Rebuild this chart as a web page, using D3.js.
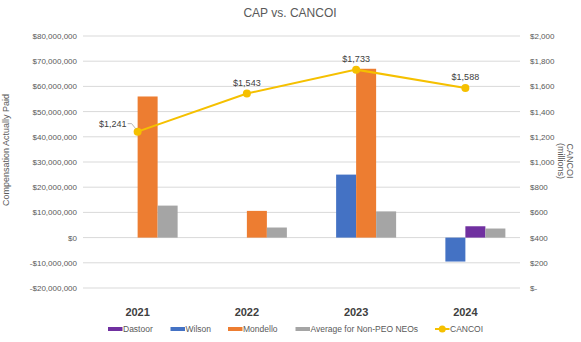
<!DOCTYPE html>
<html>
<head>
<meta charset="utf-8">
<script src="https://cdn.jsdelivr.net/npm/d3@7"></script>
<style>
  body { margin: 0; background: #fff; }
  text { font-family: "Liberation Sans", Arial, sans-serif; }
</style>
</head>
<body>
<div class="chart"></div>
<script>
// Chart data
var years = ["2021", "2022", "2023", "2024"];
var dastoor = [null, null, null, 4500000];
var wilson = [null, null, 25000000, -9500000];
var mondello = [56000000, 10600000, 67000000, null];
var avgNonPeo = [12700000, 4000000, 10400000, 3600000];
var cancoi = [1241, 1543, 1733, 1588];
var leftTicks = [-20000000, -10000000, 0, 10000000, 20000000, 30000000, 40000000, 50000000, 60000000, 70000000, 80000000];
var rightTicks = [0, 200, 400, 600, 800, 1000, 1200, 1400, 1600, 1800, 2000];

var svgWidth = 581;
var svgHeight = 342;

var margin = { top: 36, right: 61, bottom: 54, left: 83 };
var chartWidth = svgWidth - margin.left - margin.right;
var chartHeight = svgHeight - margin.top - margin.bottom;

// series; Dastoor sits in the same slot as Mondello (current PEO column)
var series = [
    { name: "Dastoor", values: dastoor, color: "#7030A0", slot: 2 },
    { name: "Wilson", values: wilson, color: "#4472C4", slot: 1 },
    { name: "Mondello", values: mondello, color: "#ED7D31", slot: 2 },
    { name: "Average for Non-PEO NEOs", values: avgNonPeo, color: "#A5A5A5", slot: 3 }
];

var svg = d3.select(".chart")
    .append("svg")
    .attr("width", svgWidth)
    .attr("height", svgHeight);

var chartGroup = svg.append("g")
    .attr("transform", `translate(${margin.left}, ${margin.top})`);

var xScale = d3.scaleBand()
    .domain(years)
    .range([0, chartWidth]);

var slotScale = d3.scaleBand()
    .domain([0, 1, 2, 3])
    .range([xScale.bandwidth() / 2 - 40, xScale.bandwidth() / 2 + 40]);

var yLeft = d3.scaleLinear()
    .domain([-20000000, 80000000])
    .range([chartHeight, 0]);

var yRight = d3.scaleLinear()
    .domain([0, 2000])
    .range([chartHeight, 0]);

// gridlines
chartGroup.append("g")
    .selectAll("line")
    .data(leftTicks)
    .enter().append("line")
    .attr("x1", 0)
    .attr("x2", chartWidth)
    .attr("y1", d => yLeft(d))
    .attr("y2", d => yLeft(d))
    .attr("stroke", "#d9d9d9")
    .attr("stroke-width", 1);

// left axis
var leftAxis = d3.axisLeft(yLeft)
    .tickValues(leftTicks)
    .tickSize(0)
    .tickPadding(6)
    .tickFormat(d => (d < 0 ? "-$" : "$") + d3.format(",")(Math.abs(d)));

chartGroup.append("g")
    .call(leftAxis)
    .call(g => g.select(".domain").remove())
    .selectAll("text")
    .attr("fill", "#595959")
    .style("font-size", "8px");

// right axis
var rightAxis = d3.axisRight(yRight)
    .tickValues(rightTicks)
    .tickSize(0)
    .tickPadding(10)
    .tickFormat(d => d === 0 ? "$-" : "$" + d3.format(",")(d));

chartGroup.append("g")
    .attr("transform", `translate(${chartWidth}, 0)`)
    .call(rightAxis)
    .call(g => g.select(".domain").remove())
    .selectAll("text")
    .attr("fill", "#595959")
    .style("font-size", "8px");

// bars
series.forEach(function(s) {
    var pts = years.map((y, i) => ({ year: y, value: s.values[i] })).filter(p => p.value !== null);
    chartGroup.append("g")
        .selectAll("rect")
        .data(pts)
        .enter().append("rect")
        .attr("x", d => xScale(d.year) + slotScale(s.slot))
        .attr("width", slotScale.bandwidth())
        .attr("y", d => yLeft(Math.max(0, d.value)))
        .attr("height", d => Math.abs(yLeft(d.value) - yLeft(0)))
        .attr("fill", s.color);
});

// CANCOI line
var line = d3.line()
    .x((d, i) => xScale(years[i]) + xScale.bandwidth() / 2)
    .y(d => yRight(d));

chartGroup.append("path")
    .datum(cancoi)
    .attr("d", line)
    .attr("fill", "none")
    .attr("stroke", "#F5C000")
    .attr("stroke-width", 2);

chartGroup.selectAll(".dot")
    .data(cancoi)
    .enter().append("circle")
    .attr("cx", (d, i) => xScale(years[i]) + xScale.bandwidth() / 2)
    .attr("cy", d => yRight(d))
    .attr("r", 4)
    .attr("fill", "#F5C000");

// data labels
cancoi.forEach(function(d, i) {
    var cx = xScale(years[i]) + xScale.bandwidth() / 2;
    var cy = yRight(d);
    if (i === 0) {
        chartGroup.append("path")
            .attr("d", `M${cx - 10},${cy - 8} L${cx - 6},${cy - 8} L${cx - 2},${cy - 3}`)
            .attr("fill", "none")
            .attr("stroke", "#a6a6a6")
            .attr("stroke-width", 0.8);
        chartGroup.append("text")
            .attr("x", cx - 11)
            .attr("y", cy - 5)
            .attr("text-anchor", "end")
            .attr("fill", "#404040")
            .style("font-size", "9px")
            .text("$" + d3.format(",")(d));
    } else {
        chartGroup.append("text")
            .attr("x", cx)
            .attr("y", cy - 8)
            .attr("text-anchor", "middle")
            .attr("fill", "#404040")
            .style("font-size", "9px")
            .text("$" + d3.format(",")(d));
    }
});

// category labels
chartGroup.append("g")
    .selectAll("text")
    .data(years)
    .enter().append("text")
    .attr("x", d => xScale(d) + xScale.bandwidth() / 2)
    .attr("y", chartHeight + 28)
    .attr("text-anchor", "middle")
    .attr("fill", "#404040")
    .style("font-size", "11px")
    .style("font-weight", "bold")
    .text(d => d);

// title
svg.append("text")
    .attr("x", 290)
    .attr("y", 17)
    .attr("text-anchor", "middle")
    .attr("fill", "#595959")
    .style("font-size", "12px")
    .text("CAP vs. CANCOI");

// axis titles
svg.append("text")
    .attr("transform", "translate(9, 150) rotate(-90)")
    .attr("text-anchor", "middle")
    .attr("fill", "#595959")
    .style("font-size", "9px")
    .text("Compensation Actually Paid");

svg.append("text")
    .attr("transform", "translate(567, 161) rotate(90)")
    .attr("text-anchor", "middle")
    .attr("fill", "#595959")
    .style("font-size", "9px")
    .text("CANCOI");

svg.append("text")
    .attr("transform", "translate(558, 161) rotate(90)")
    .attr("text-anchor", "middle")
    .attr("fill", "#595959")
    .style("font-size", "9px")
    .text("(millions)");

// legend
var legendItems = [
    { name: "Dastoor", color: "#7030A0", x: 108, type: "rect" },
    { name: "Wilson", color: "#4472C4", x: 170.5, type: "rect" },
    { name: "Mondello", color: "#ED7D31", x: 228, type: "rect" },
    { name: "Average for Non-PEO NEOs", color: "#A5A5A5", x: 295.5, type: "rect" },
    { name: "CANCOI", color: "#F5C000", x: 435, type: "line" }
];

var legend = svg.append("g").attr("transform", "translate(0, 329)");

legendItems.forEach(function(item) {
    if (item.type === "rect") {
        legend.append("rect")
            .attr("x", item.x)
            .attr("y", -2)
            .attr("width", 14.5)
            .attr("height", 4)
            .attr("fill", item.color);
    } else {
        legend.append("line")
            .attr("x1", item.x)
            .attr("x2", item.x + 14.5)
            .attr("y1", 0)
            .attr("y2", 0)
            .attr("stroke", item.color)
            .attr("stroke-width", 2);
        legend.append("circle")
            .attr("cx", item.x + 7.25)
            .attr("cy", 0)
            .attr("r", 3.5)
            .attr("fill", item.color);
    }
    legend.append("text")
        .attr("x", item.x + 15)
        .attr("y", 3)
        .attr("fill", "#595959")
        .style("font-size", "8.5px")
        .text(item.name);
});
</script>
</body>
</html>
